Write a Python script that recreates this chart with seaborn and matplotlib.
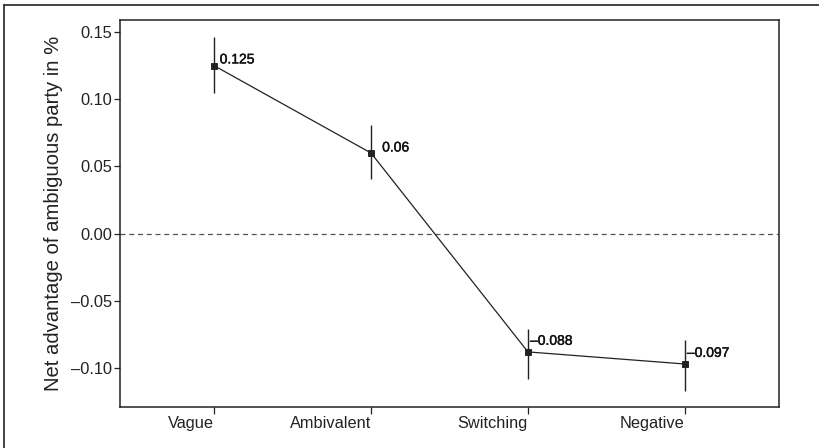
import matplotlib
matplotlib.use("Agg")
import matplotlib.pyplot as plt
import matplotlib.patheffects as pe
import seaborn as sns
import pandas as pd
from matplotlib.lines import Line2D

categories = ["Vague", "Ambivalent", "Switching", "Negative"]
estimates = [0.125, 0.06, -0.088, -0.097]
ci_low = [0.105, 0.0405, -0.108, -0.117]
ci_high = [0.146, 0.081, -0.071, -0.0795]
value_labels = ["0.125", "0.06", "\u20130.088", "\u20130.097"]
yticks = [0.15, 0.10, 0.05, 0.00, -0.05, -0.10]
ytick_labels = ["0.15", "0.10", "0.05", "0.00", "\u20130.05", "\u20130.10"]

sns.set_theme(style="white")
plt.rcParams["font.family"] = ["Liberation Sans", "DejaVu Sans"]

df = pd.DataFrame({"type": categories, "est": estimates})

fig = plt.figure(figsize=(8.19, 4.48), dpi=100)
ax = fig.add_axes([120 / 819, 1 - 407 / 448, (779 - 120) / 819, (407 - 20) / 448])

# zero reference line
ax.axhline(0, color="#555555", linestyle=(0, (4, 3)), linewidth=0.9, zorder=1)

# confidence intervals
for i, (lo, hi) in enumerate(zip(ci_low, ci_high)):
    ax.vlines(i, lo, hi, color="#222222", linewidth=1.0, zorder=2)

sns.pointplot(data=df, x="type", y="est", order=categories, color="#222222",
              markers="s", markersize=5, linewidth=0.9, errorbar=None, ax=ax,
              zorder=3)

offsets = [(4, 4.5), (8, 4), (1.5, 8), (1.5, 8)]
for i, (v, lab) in enumerate(zip(estimates, value_labels)):
    dx, dy = offsets[i]
    ax.annotate(lab, (i, v), xytext=(dx, dy), textcoords="offset points",
                fontsize=10, color="#111111", ha="left", va="center",
                path_effects=[pe.withStroke(linewidth=0.3, foreground="#111111")])

ax.set_xlim(-0.6, 3.6)
ax.set_ylim(-0.129, 0.159)
ax.set_yticks(yticks)
ax.set_yticklabels(ytick_labels)
ax.set_xticks(range(len(categories)))
ax.set_xticklabels(categories, ha="right")
ax.set_xlabel("")
ax.set_ylabel("Net advantage of ambiguous party in %", fontsize=14.6, color="#222222",
              labelpad=6)
ax.tick_params(axis="y", direction="out", length=4, width=0.9,
               color="#222222", labelsize=11.8, labelcolor="#222222", pad=1.5, left=True)
ax.tick_params(axis="x", direction="out", length=5, width=0.9,
               color="#222222", labelsize=11.8, labelcolor="#222222", pad=1.5, bottom=True)
for s in ax.spines.values():
    s.set_color("#222222")
    s.set_linewidth(1.1)

# outer frame of the figure
fig.add_artist(Line2D([4 / 819, 4 / 819], [0, 1 - 5 / 448], transform=fig.transFigure,
                      color="#222222", linewidth=1.2))
fig.add_artist(Line2D([4 / 819, 1], [1 - 5 / 448, 1 - 5 / 448], transform=fig.transFigure,
                      color="#222222", linewidth=1.2))

fig.savefig("out.png", dpi=100)
